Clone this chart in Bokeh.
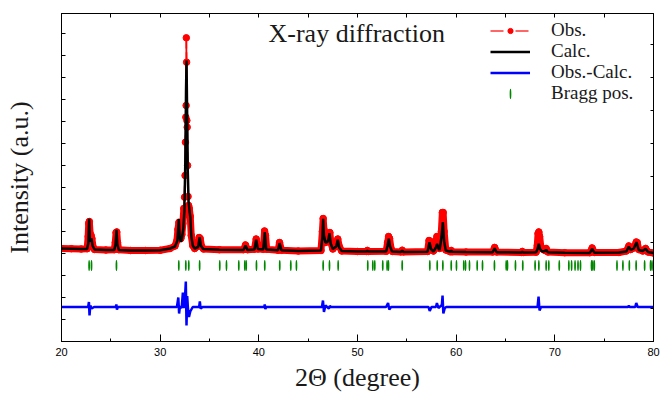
import numpy as np
from bokeh.plotting import figure
from bokeh.models import (Range1d, FixedTicker, LinearAxis, Legend, LegendItem,
                          Label, ColumnDataSource)
from bokeh.embed import file_html
from bokeh.resources import INLINE

# ---------------- data ----------------
obs_tt = [20.0, 21.0, 22.0, 22.6, 22.7, 22.76, 22.82, 22.9, 23.0, 23.08, 23.2, 23.35,
          24.5, 25.35, 25.45, 25.53, 25.6, 25.68, 25.8, 27.0, 28.5, 30.0, 31.0, 31.5,
          31.7, 31.8, 31.9, 32.0, 32.1, 32.2, 32.3, 32.4, 32.47, 32.52, 32.56, 32.6,
          32.63, 32.65, 32.68, 32.71, 32.74, 32.78, 32.83, 32.88, 32.95, 33.05, 33.15,
          33.3, 33.5, 33.85, 33.95, 34.05, 34.2, 34.4, 36.0, 38.45, 38.65, 38.85, 39.55,
          39.73, 39.9, 40.45, 40.58, 40.68, 40.8, 41.95, 42.1, 42.3, 44.0, 46.3, 46.44,
          46.52, 46.6, 46.75, 46.95, 47.1, 47.2, 47.3, 47.5, 47.85, 48.0, 48.15, 48.4,
          50.0, 50.9, 51.0, 51.1, 52.9, 53.05, 53.15, 53.25, 53.4, 53.55, 54.4, 54.53,
          54.65, 57.1, 57.25, 57.35, 57.5, 57.7, 57.95, 58.05, 58.15, 58.32, 58.5, 58.6,
          58.68, 58.78, 58.95, 59.4, 59.5, 59.6, 61.0, 63.7, 63.9, 64.1, 66.6, 66.7,
          66.8, 68.1, 68.22, 68.3, 68.38, 68.46, 68.6, 69.0, 69.12, 69.3, 71.0, 73.55,
          73.78, 74.0, 76.5, 77.25, 77.5, 77.7, 78.0, 78.25, 78.35, 78.5, 78.9, 79.2,
          79.45, 80.0]
obs = [930, 928, 925, 928, 1050, 1180, 1200, 1080, 1060, 1030, 945, 920,
       915, 918, 990, 1090, 1095, 990, 918, 910, 910, 912, 930, 955,
       1010, 1120, 1190, 1100, 1030, 1070, 1180, 1330, 1443, 1660, 1993, 2243,
       2360, 3037, 2793, 2210, 2143, 1760, 1450, 1360, 1330, 1250, 1060,
       960, 930, 955, 1040, 1030, 950, 925, 918, 918, 965, 918, 922,
       1025, 925, 922, 1105, 1060, 922, 912, 990, 912, 905, 910, 1100,
       1230, 1120, 990, 1000, 1060, 1090, 990, 925, 960, 1025, 950, 905,
       900, 900, 910, 900, 902, 990, 1050, 1030, 930, 900, 896, 912,
       896, 900, 1010, 1005, 920, 905, 1000, 1050, 1010, 930, 1100, 1290,
       1290, 1100, 915, 897, 910, 897, 895, 895, 940, 895, 890, 900,
       890, 893, 960, 1080, 1095, 1050, 930, 910, 930, 895, 888, 888,
       935, 890, 890, 905, 955, 920, 935, 995, 990, 920, 905, 930,
       895, 885]

calc_tt = [20.0, 21.0, 22.0, 22.6, 22.72, 22.8, 22.88, 22.96, 23.04, 23.14, 23.35, 24.5,
           25.35, 25.48, 25.57, 25.66, 25.8, 27.0, 28.5, 30.0, 31.0, 31.5, 31.75, 31.89,
           31.98, 32.1, 32.2, 32.35, 32.45, 32.55, 32.62, 32.67, 32.72, 32.8, 32.88,
           32.97, 33.06, 33.15, 33.3, 33.5, 33.85, 34.0, 34.12, 34.35, 36.0, 38.45,
           38.65, 38.85, 39.55, 39.73, 39.9, 40.45, 40.6, 40.75, 41.95, 42.1, 42.3, 44.0,
           46.3, 46.44, 46.52, 46.6, 46.75, 46.95, 47.07, 47.16, 47.28, 47.5, 47.85, 48.0,
           48.15, 48.4, 50.0, 50.9, 51.0, 51.1, 52.9, 53.05, 53.17, 53.3, 53.5, 54.4,
           54.53, 54.65, 57.1, 57.3, 57.45, 57.7, 57.95, 58.07, 58.2, 58.32, 58.52, 58.65,
           58.78, 58.95, 59.4, 59.5, 59.6, 61.0, 63.7, 63.9, 64.1, 66.6, 66.7, 66.8, 68.1,
           68.25, 68.37, 68.5, 68.7, 69.0, 69.12, 69.3, 71.0, 73.55, 73.78, 74.0, 76.5,
           77.25, 77.5, 77.7, 78.0, 78.28, 78.5, 78.9, 79.2, 79.45, 80.0]
calc = [930, 928, 925, 925, 985, 1227, 1000, 1010, 1030, 960, 920, 915,
        915, 975, 1117, 975, 915, 910, 910, 912, 930, 950, 1010, 1227,
        1040, 995, 1030, 1130, 1300, 1800, 2500, 2810, 2400, 1700, 1400,
        1310, 1240, 1060, 960, 930, 945, 1043, 960, 925, 918, 915,
        960, 915, 920, 1017, 925, 920, 1093, 920, 912, 983, 912, 905,
        910, 1040, 1227, 1060, 990, 995, 1030, 1083, 980, 925, 950, 1017,
        940, 905, 900, 900, 908, 900, 900, 960, 1027, 950, 900, 896,
        910, 896, 898, 993, 925, 900, 940, 977, 930, 915, 1050, 1193,
        1000, 910, 897, 908, 897, 895, 893, 933, 893, 890, 898, 890, 892,
        925, 977, 925, 900, 905, 917, 893, 888, 886, 927, 888, 890,
        900, 950, 915, 930, 993, 915, 905, 927, 895, 885]

diff_tt = [20.0, 22.7, 22.78, 22.84, 22.92, 23.05, 23.3, 25.5, 25.56, 25.62, 25.7,
           31.7, 31.84, 31.92, 32.0, 32.18, 32.3, 32.38, 32.5, 32.6, 32.67, 32.74,
           32.82, 32.92, 33.05, 33.3, 33.95, 34.02, 34.1, 34.3, 40.55, 40.6, 40.66,
           40.75, 46.4, 46.5, 46.6, 46.75, 47.1, 47.2, 47.3, 52.9, 53.1, 53.22, 53.4,
           57.2, 57.32, 57.5, 57.95, 58.05, 58.2, 58.55, 58.62, 58.7, 58.85, 59.0,
           68.25, 68.35, 68.45, 68.6, 77.4, 77.5, 77.6, 78.15, 78.25, 78.4, 80.0]
diff = [0, 0, 50, -85, 15, -15, 0, 0, 25, -25, 0,
        0, 95, -65, 5, -10, 145, -10, 60, 255, -185, 110,
        -20, -100, -45, 0, 0, 55, -15, 0, 0, 25, -20,
        0, 0, 65, -50, 15, -15, 10, 0, 0, 40, -25, 0,
        0, -40, 0, 0, 40, -10, 20, 115, -65, -10, 0,
        0, 105, -35, 0, 0, 10, 0, 0, 40, 0, 0]

bragg_pos = [22.80, 23.04, 25.57, 31.89, 32.60, 32.90, 34.00, 36.04, 36.72, 37.97,
             38.58, 38.72, 39.76, 40.60, 42.12, 43.24, 43.81, 46.52, 47.16, 48.04,
             51.04, 51.55, 51.75, 52.56, 53.00, 53.14, 54.53, 57.33, 58.08, 58.65,
             59.50, 60.03, 60.77, 60.95, 61.35, 62.13, 62.67, 63.88, 65.07, 65.20,
             66.01, 66.75, 68.00, 68.38, 69.12, 69.39, 70.45, 71.42, 71.70, 72.05,
             72.35, 72.60, 73.72, 73.85, 74.00, 76.30, 76.90, 77.55, 78.24, 79.10,
             79.70, 79.85]

legend_labels = ["Obs.", "Calc.", "Obs.-Calc.", "Bragg pos."]

x_ticks = [20, 30, 40, 50, 60, 70, 80]
x_minor = [25, 35, 45, 55, 65, 75]

# ---------------- layout / style constants ----------------
DIFF_OFFSET = 345
BRAGG_Y = 760
BAND_MAX = 1400          # dense-point band drawn only where points are dense (below this)
LEGEND_X = 429
LEGEND_Y = [300, 279, 258, 237]
SERIF = "Liberation Serif"
SANS = "Liberation Sans"

p = figure(width=660, height=395, x_range=Range1d(20, 80), y_range=Range1d(0, 3280),
           output_backend="svg", toolbar_location=None,
           min_border_left=61, min_border_right=7, min_border_top=13, min_border_bottom=54)
p.grid.visible = False
p.outline_line_color = "black"
p.outline_line_width = 1
p.background_fill_color = "white"
p.border_fill_color = "white"

# bottom axis
xa = p.xaxis[0]
xa.ticker = FixedTicker(ticks=x_ticks, minor_ticks=x_minor)
xa.major_tick_in = 7
xa.major_tick_out = 0
xa.minor_tick_in = 3
xa.minor_tick_out = 0
xa.axis_line_color = "black"
xa.major_tick_line_color = "black"
xa.minor_tick_line_color = "black"
xa.major_label_text_font = SANS
xa.major_label_text_font_size = "11px"
xa.major_label_text_color = "black"
xa.major_label_standoff = 6
xa.axis_label = "2Θ (degree)"
xa.axis_label_text_font = SERIF
xa.axis_label_text_font_size = "26px"
xa.axis_label_text_font_style = "normal"
xa.axis_label_text_color = "#1a1a1a"
xa.axis_label_standoff = 4

# left axis
y_ticks = list(range(0, 3281, 220))
ya = p.yaxis[0]
ya.ticker = FixedTicker(ticks=y_ticks)
ya.major_tick_in = 4
ya.major_tick_out = 0
ya.minor_tick_line_color = None
ya.major_label_overrides = {t: "" for t in y_ticks}
ya.axis_label = "Intensity (a.u.)"
ya.axis_label_text_font = SERIF
ya.axis_label_text_font_size = "26px"
ya.axis_label_text_font_style = "normal"
ya.axis_label_text_color = "#1a1a1a"
ya.axis_label_standoff = 28

# top axis
top_ticks = [20, 25, 30, 35, 40, 45, 50, 55, 60, 65, 70, 75, 80]
ta = LinearAxis(ticker=FixedTicker(ticks=top_ticks), major_tick_in=4, major_tick_out=0,
                minor_tick_line_color=None, major_label_standoff=0,
                major_label_text_font_size="1px",
                major_label_overrides={t: "" for t in top_ticks})
p.add_layout(ta, "above")

# right axis
r_ticks = list(range(0, 3281, 330))
ra = LinearAxis(ticker=FixedTicker(ticks=r_ticks), major_tick_in=3, major_tick_out=0,
                minor_tick_line_color=None, major_label_standoff=0,
                major_label_text_font_size="1px",
                major_label_overrides={t: "" for t in r_ticks})
p.add_layout(ra, "right")

# ---------------- glyphs ----------------
obs_arr = np.array(obs, dtype=float)
band = np.where(obs_arr <= BAND_MAX, obs_arr, np.nan)
obs_src = ColumnDataSource(dict(x=np.array(obs_tt), y=obs_arr, band=band))

p.line("x", "band", source=obs_src, line_color="#ff0000", line_width=7,
       line_join="round", line_cap="round")
p.line("x", "y", source=obs_src, line_color="#ff0000", line_width=1.6)
obs_dash = p.line("x", "y", source=obs_src, line_color="#ff0000", line_alpha=0.6,
                  line_width=2, line_dash="13 12")
obs_dot = p.scatter("x", "y", source=obs_src, size=6.5, marker="circle",
                    fill_color="#ff0000", line_color="#ff0000")

calc_r = p.line(calc_tt, calc, line_color="black", line_width=2.5)

diff_r = p.line(diff_tt, [d + DIFF_OFFSET for d in diff], line_color="#0000ff", line_width=2.5)

bragg_r = p.ellipse(x=bragg_pos, y=[BRAGG_Y] * len(bragg_pos), width=1.8, height=11,
                    width_units="screen", height_units="screen",
                    fill_color="#008800", line_color=None)

legend_renderers = [[obs_dash, obs_dot], [calc_r], [diff_r], [bragg_r]]
for lab, rends, ly in zip(legend_labels, legend_renderers, LEGEND_Y):
    lg = Legend(items=[LegendItem(label=lab, renderers=rends)],
                location=(LEGEND_X, ly), border_line_color=None, background_fill_alpha=0,
                glyph_width=40, glyph_height=13, label_height=20, label_standoff=21,
                spacing=0, padding=0, margin=0,
                label_text_font=SERIF, label_text_font_size="19px",
                label_text_color="#1a1a1a")
    p.add_layout(lg)

p.add_layout(Label(x=40.98, y=3083, text="X-ray diffraction", text_font=SERIF,
                   text_font_size="26px", text_color="#1a1a1a", text_baseline="alphabetic"))

open("out.html", "w").write(file_html(p, INLINE))
